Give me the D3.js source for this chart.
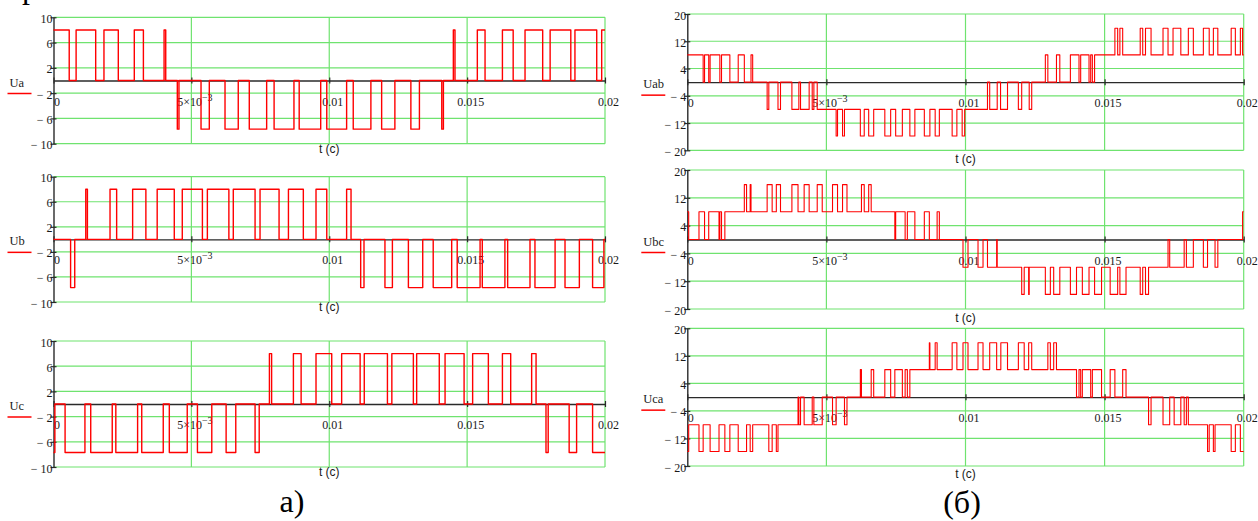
<!DOCTYPE html>
<html>
<head>
<meta charset="utf-8">
<script src="https://d3js.org/d3.v7.min.js"></script>
<style>
  body { margin: 0; background: #fff; }
  svg { display: block; }
</style>
</head>
<body>
<svg id="chart" width="1258" height="521"></svg>
<script>
// tick values
const timeTicks = [0, 0.005, 0.01, 0.015, 0.02];
const phaseTicks = [10, 6, 2, -2, -6, -10];
const lineTicks = [20, 12, 4, -4, -12, -20];

// step breakpoints [t (s), U], value holds until next point
const ua = [
  [0, 8], [0.00057, 0], [0.00082, 8], [0.00153, 0], [0.00183, 8], [0.00235, 0], [0.00293, 8], [0.00326, 0],
  [0.00401, 8], [0.00407, 0], [0.00449, -7.7], [0.00455, 0], [0.00535, -7.7], [0.00565, 0], [0.00622, -7.7],
  [0.00670, 0], [0.00710, -7.7], [0.00773, 0], [0.00800, -7.7], [0.00872, 0], [0.00891, -7.7], [0.00969, 0],
  [0.00991, -7.7], [0.01063, 0], [0.01087, -7.7], [0.01151, 0], [0.01190, -7.7], [0.01238, 0], [0.01296, -7.7],
  [0.01327, 0], [0.01408, -7.7], [0.01414, 0], [0.01450, 8], [0.01456, 0], [0.01537, 8], [0.01565, 0],
  [0.01628, 8], [0.01667, 0], [0.01710, 8], [0.01774, 0], [0.01801, 8], [0.01876, 0], [0.01891, 8],
  [0.01970, 0], [0.01988, 8]
];
const ub = [
  [0, 0], [0.00062, -7.7], [0.00077, 0], [0.00117, 8], [0.00123, 0], [0.00205, 8], [0.00229, 0], [0.00287, 8],
  [0.00335, 0], [0.00376, 8], [0.00438, 0], [0.00467, 8], [0.00540, 0], [0.00558, 8], [0.00636, 0], [0.00652, 8],
  [0.00731, 0], [0.00749, 8], [0.00818, 0], [0.00852, 8], [0.00906, 0], [0.00952, 8], [0.00991, 0], [0.01063, 8],
  [0.01079, 0], [0.01114, -7.7], [0.01126, 0], [0.01202, -7.7], [0.01229, 0], [0.01287, -7.7], [0.01339, 0],
  [0.01377, -7.7], [0.01444, 0], [0.01464, -7.7], [0.01547, 0], [0.01555, -7.7], [0.01637, 0], [0.01647, -7.7],
  [0.01728, 0], [0.01746, -7.7], [0.01819, 0], [0.01855, -7.7], [0.01907, 0], [0.01955, -7.7], [0.01996, 0]
];
const uc = [
  [0, -7.7], [0.00005, 0], [0.00042, -7.7], [0.00114, 0], [0.00135, -7.7], [0.00213, 0], [0.00226, -7.7],
  [0.00305, 0], [0.00320, -7.7], [0.00398, 0], [0.00420, -7.7], [0.00485, 0], [0.00522, -7.7], [0.00574, 0],
  [0.00626, -7.7], [0.00661, 0], [0.00731, -7.7], [0.00746, 0], [0.00783, 8], [0.00791, 0], [0.00870, 8],
  [0.00898, 0], [0.00952, 8], [0.01009, 0], [0.01045, 8], [0.01112, 0], [0.01127, 8], [0.01211, 0], [0.01227, 8],
  [0.01305, 0], [0.01317, 8], [0.01399, 0], [0.01420, 8], [0.01489, 0], [0.01520, 8], [0.01577, 0], [0.01628, 8],
  [0.01658, 0], [0.01734, 8], [0.01750, 0], [0.01786, -7.7], [0.01794, 0], [0.01870, -7.7], [0.01897, 0],
  [0.01955, -7.7]
];
const uab = [
  [0, 8], [0.00057, 0], [0.00062, 8], [0.00077, 0], [0.00082, 8], [0.00117, 0], [0.00123, 8], [0.00153, 0],
  [0.00183, 8], [0.00205, 0], [0.00229, 8], [0.00235, 0], [0.00287, -8], [0.00293, 0], [0.00326, -8], [0.00335, 0],
  [0.00376, -8], [0.00401, 0], [0.00407, -8], [0.00438, 0], [0.00449, -8], [0.00455, 0], [0.00467, -8],
  [0.00535, -15.8], [0.00540, -8], [0.00558, -15.8], [0.00565, -8], [0.00622, -15.8], [0.00636, -8],
  [0.00652, -15.8], [0.00670, -8], [0.00710, -15.8], [0.00731, -8], [0.00749, -15.8], [0.00773, -8],
  [0.00800, -15.8], [0.00818, -8], [0.00852, -15.8], [0.00872, -8], [0.00891, -15.8], [0.00906, -8],
  [0.00952, -15.8], [0.00969, -8], [0.00988, -15.8], [0.00997, -8], [0.01079, 0], [0.01087, -8], [0.01114, 0],
  [0.01126, -8], [0.01151, 0], [0.01190, -8], [0.01202, 0], [0.01229, -8], [0.01238, 0], [0.01287, 8],
  [0.01296, 0], [0.01327, 8], [0.01339, 0], [0.01377, 8], [0.01408, 0], [0.01414, 8], [0.01444, 0], [0.01450, 8],
  [0.01456, 0], [0.01464, 8], [0.01537, 15.8], [0.01547, 8], [0.01555, 15.8], [0.01565, 8], [0.01628, 15.8],
  [0.01637, 8], [0.01647, 15.8], [0.01667, 8], [0.01710, 15.8], [0.01728, 8], [0.01746, 15.8], [0.01774, 8],
  [0.01801, 15.8], [0.01819, 8], [0.01855, 15.8], [0.01876, 8], [0.01891, 15.8], [0.01907, 8], [0.01955, 15.8],
  [0.01970, 8], [0.01988, 15.8], [0.01996, 8]
];
const ubc = [
  [0, 8], [0.00005, 0], [0.00042, 8], [0.00062, 0], [0.00077, 8], [0.00114, 0], [0.00117, 8], [0.00123, 0],
  [0.00135, 8], [0.00205, 15.8], [0.00213, 8], [0.00226, 15.8], [0.00229, 8], [0.00287, 15.8], [0.00305, 8],
  [0.00320, 15.8], [0.00335, 8], [0.00376, 15.8], [0.00398, 8], [0.00420, 15.8], [0.00438, 8], [0.00467, 15.8],
  [0.00485, 8], [0.00522, 15.8], [0.00540, 8], [0.00558, 15.8], [0.00574, 8], [0.00626, 15.8], [0.00636, 8],
  [0.00652, 15.8], [0.00661, 8], [0.00746, 0], [0.00749, 8], [0.00783, 0], [0.00791, 8], [0.00818, 0],
  [0.00852, 8], [0.00870, 0], [0.00898, 8], [0.00906, 0], [0.00991, -8], [0.01009, 0], [0.01045, -8],
  [0.01063, 0], [0.01079, -8], [0.01112, 0], [0.01114, -8], [0.01202, -15.8], [0.01211, -8], [0.01227, -15.8],
  [0.01229, -8], [0.01287, -15.8], [0.01305, -8], [0.01317, -15.8], [0.01339, -8], [0.01377, -15.8],
  [0.01399, -8], [0.01420, -15.8], [0.01444, -8], [0.01464, -15.8], [0.01489, -8], [0.01520, -15.8],
  [0.01547, -8], [0.01555, -15.8], [0.01577, -8], [0.01628, -15.8], [0.01637, -8], [0.01647, -15.8],
  [0.01658, -8], [0.01728, 0], [0.01734, -8], [0.01786, 0], [0.01794, -8], [0.01819, 0], [0.01855, -8],
  [0.01870, 0], [0.01897, -8], [0.01907, 0], [0.01996, 8]
];
const uca = [
  [0, -15.8], [0.00005, -8], [0.00042, -15.8], [0.00057, -8], [0.00082, -15.8], [0.00114, -8], [0.00135, -15.8],
  [0.00153, -8], [0.00183, -15.8], [0.00213, -8], [0.00226, -15.8], [0.00235, -8], [0.00293, -15.8],
  [0.00305, -8], [0.00320, -15.8], [0.00326, -8], [0.00398, 0], [0.00401, -8], [0.00407, 0], [0.00420, -8],
  [0.00449, 0], [0.00455, -8], [0.00485, 0], [0.00522, -8], [0.00535, 0], [0.00565, -8], [0.00574, 0],
  [0.00622, 8], [0.00626, 0], [0.00661, 8], [0.00670, 0], [0.00710, 8], [0.00731, 0], [0.00746, 8], [0.00773, 0],
  [0.00783, 8], [0.00791, 0], [0.00800, 8], [0.00870, 15.8], [0.00872, 8], [0.00891, 15.8], [0.00898, 8],
  [0.00952, 15.8], [0.00969, 8], [0.00991, 15.8], [0.01009, 8], [0.01045, 15.8], [0.01063, 8], [0.01087, 15.8],
  [0.01112, 8], [0.01127, 15.8], [0.01151, 8], [0.01190, 15.8], [0.01211, 8], [0.01227, 15.8], [0.01238, 8],
  [0.01296, 15.8], [0.01305, 8], [0.01317, 15.8], [0.01327, 8], [0.01399, 0], [0.01408, 8], [0.01414, 0],
  [0.01420, 8], [0.01450, 0], [0.01456, 8], [0.01489, 0], [0.01520, 8], [0.01537, 0], [0.01565, 8], [0.01577, 0],
  [0.01658, -8], [0.01667, 0], [0.01710, -8], [0.01734, 0], [0.01750, -8], [0.01774, 0], [0.01786, -8],
  [0.01794, 0], [0.01801, -8], [0.01870, -15.8], [0.01876, -8], [0.01891, -15.8], [0.01897, -8],
  [0.01955, -15.8], [0.01970, -8], [0.01988, -15.8]
];

const SERIF = '"Liberation Serif", "Times New Roman", serif';
const SANS = '"Liberation Sans", Arial, sans-serif';
const GRID = '#6fe36f';
const AXIS = '#2a2a2a';
const TRACE = '#ff0000';

const panels = [
  { name: 'Ua',  data: ua,  ticks: phaseTicks, x0: 53.5,  x1: 605,    top: 17.3,  bottom: 143.7, lw: 1.4, titleDy: 9 },
  { name: 'Ub',  data: ub,  ticks: phaseTicks, x0: 53.5,  x1: 605,    top: 176.7, bottom: 302,   lw: 1.4, titleDy: 9 },
  { name: 'Uc',  data: uc,  ticks: phaseTicks, x0: 53.5,  x1: 605,    top: 341,   bottom: 467,   lw: 1.4, titleDy: 9 },
  { name: 'Uab', data: uab, ticks: lineTicks,  x0: 687.3, x1: 1243.7, top: 14,    bottom: 150.3, lw: 1.1, titleDy: 13 },
  { name: 'Ubc', data: ubc, ticks: lineTicks,  x0: 687.3, x1: 1243.7, top: 170,   bottom: 309,   lw: 1.1, titleDy: 13 },
  { name: 'Uca', data: uca, ticks: lineTicks,  x0: 687.3, x1: 1243.7, top: 328.3, bottom: 466,   lw: 1.1, titleDy: 12 }
];

const svg = d3.select('#chart');

const fmtY = d => d < 0 ? '\u2212 ' + (-d) : String(d);
const fmtT = d => d === 0.005 ? '5\u00d710' : String(d);

function drawPanel(p) {
  const x = d3.scaleLinear().domain([0, 0.02]).range([p.x0, p.x1]);
  const y = d3.scaleLinear().domain(d3.extent(p.ticks)).range([p.bottom, p.top]);
  const g = svg.append('g');

  // green grid
  g.append('g').selectAll('line').data(p.ticks).join('line')
    .attr('x1', x(0)).attr('x2', x(0.02))
    .attr('y1', d => y(d)).attr('y2', d => y(d))
    .attr('stroke', GRID).attr('stroke-width', 1.2);
  g.append('g').selectAll('line').data(timeTicks.slice(1)).join('line')
    .attr('x1', d => x(d)).attr('x2', d => x(d))
    .attr('y1', p.top).attr('y2', p.bottom)
    .attr('stroke', GRID).attr('stroke-width', 1.2);

  // y axis
  const ya = g.append('g')
    .attr('transform', `translate(${x(0)},0)`)
    .call(d3.axisLeft(y).tickValues(p.ticks).tickSizeInner(3).tickSizeOuter(0).tickFormat(fmtY));
  ya.attr('color', AXIS).attr('font-family', SERIF).attr('font-size', 12);
  ya.select('.domain').attr('stroke-width', 1.4);
  ya.selectAll('.tick line').attr('x1', 3).attr('x2', -3).attr('stroke-width', 1.2);
  ya.selectAll('.tick text').attr('x', -1).attr('dy', '0.42em').attr('fill', '#1a1a1a');

  // zero axis with time labels
  const xa = g.append('g')
    .attr('transform', `translate(0,${y(0)})`)
    .call(d3.axisBottom(x).tickValues(timeTicks).tickSizeInner(3).tickSizeOuter(0).tickFormat(fmtT));
  xa.attr('color', AXIS).attr('font-family', SERIF).attr('font-size', 12);
  xa.select('.domain').attr('stroke-width', 1.4);
  xa.selectAll('.tick line').attr('y1', -3).attr('y2', 3).attr('stroke-width', 1.2);
  xa.selectAll('.tick text').attr('x', 3).attr('y', 16.5).attr('fill', '#1a1a1a');
  xa.selectAll('.tick text').filter(d => d === 0.005)
    .append('tspan').attr('dy', '-0.5em').attr('font-size', 10).text('\u22123');

  // trace
  const pts = p.data.concat([[0.02, p.data[p.data.length - 1][1]]]);
  const line = d3.line().x(d => x(d[0])).y(d => y(d[1])).curve(d3.curveStepAfter);
  g.append('path').datum(pts)
    .attr('d', line)
    .attr('fill', 'none')
    .attr('stroke', TRACE)
    .attr('stroke-width', p.lw)
    .attr('stroke-linejoin', 'round');

  // legend name with red sample line
  g.append('text')
    .attr('x', x(0) - 44).attr('y', y(0) + 6)
    .attr('font-family', SERIF).attr('font-size', 12.5).attr('fill', '#1a1a1a')
    .text(p.name);
  g.append('line')
    .attr('x1', x(0) - 46).attr('x2', x(0) - 22)
    .attr('y1', y(0) + 13).attr('y2', y(0) + 13)
    .attr('stroke', TRACE).attr('stroke-width', 1.5);

  // axis title
  g.append('text')
    .attr('x', (p.x0 + p.x1) / 2).attr('y', p.bottom + p.titleDy)
    .attr('text-anchor', 'middle')
    .attr('font-family', SANS).attr('font-size', 12).attr('fill', '#1a1a1a')
    .text('t (c)');
}

panels.forEach(drawPanel);

// captions
svg.append('text').attr('x', 22).attr('y', -2)
  .attr('font-family', SERIF).attr('font-size', 32).attr('fill', '#000').text('р');
svg.append('text').attr('x', 292).attr('y', 512).attr('text-anchor', 'middle')
  .attr('font-family', SERIF).attr('font-size', 32).attr('fill', '#000').text('а)');
svg.append('text').attr('x', 962).attr('y', 513).attr('text-anchor', 'middle')
  .attr('font-family', SERIF).attr('font-size', 32).attr('fill', '#000').text('(б)');
</script>
</body>
</html>
